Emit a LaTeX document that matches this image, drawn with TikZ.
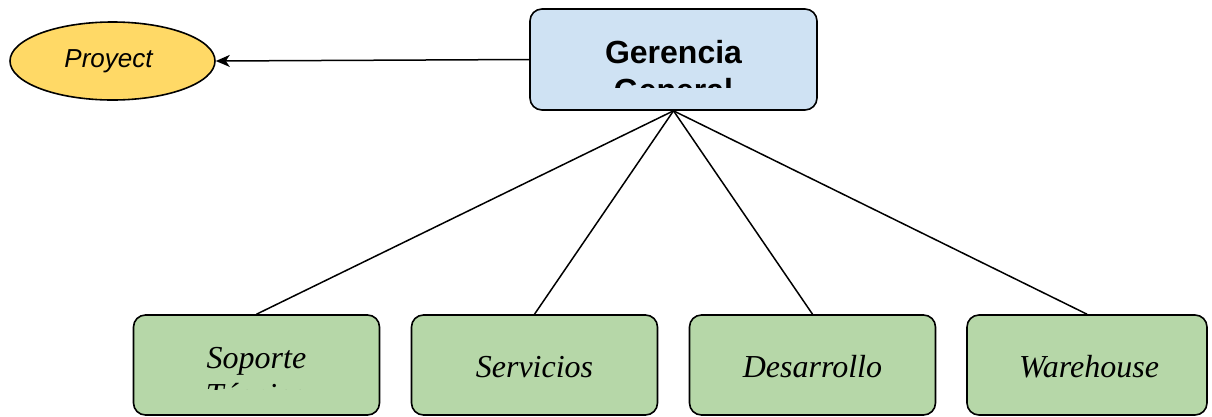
\documentclass[tikz,border=0pt]{standalone}
\usepackage{fontspec}
\setmainfont{Liberation Serif}
\newfontfamily\arialfont{Liberation Sans}
\usetikzlibrary{arrows.meta,shapes.geometric}
\definecolor{gerblue}{RGB}{207,226,243}
\definecolor{areagreen}{RGB}{182,215,168}
\definecolor{proyellow}{RGB}{255,217,102}

\begin{document}
\begin{tikzpicture}[x=1pt,y=-1pt,line width=1.6pt,
    gerbox/.style={draw,rounded corners=12pt,fill=gerblue,minimum width=287pt,minimum height=101pt,inner sep=0pt},
    areabox/.style={draw,rounded corners=12pt,fill=areagreen,minimum width=246pt,minimum height=100pt,inner sep=0pt},
    areatext/.style={font=\fontsize{32}{37}\selectfont\itshape,align=center,inner sep=0pt},
    link/.style={line width=1.5pt}]
    \useasboundingbox (0,0) rectangle (1212,416);
    % top
    \node[gerbox] (ger) at (673.5,59.5) {};
    \begin{scope}
        \clip (530,9) rectangle (817,87);
        \node[font=\arialfont\bfseries\fontsize{32}{38}\selectfont,align=center,inner sep=0pt] (gertext) at (673.5,71) {Gerencia\\General};
    \end{scope}
    \node[draw,ellipse,fill=proyellow,minimum width=205pt,minimum height=78pt,inner sep=0pt] (proy) at (112.5,61) {};
    \node[font=\arialfont\itshape\fontsize{26}{31}\selectfont,inner sep=0pt] (proytext) at (108.5,61) {Proyect};
    \draw[link,-{Stealth[length=14pt,width=12pt,inset=4pt]}] (ger.west) -- (proy.east);
    % areas
    \node[areabox] (sop) at (256.5,365) {};
    \node[areabox] (ser) at (534.5,365) {};
    \node[areabox] (des) at (812.5,365) {};
    \node[areabox,minimum width=240pt] (war) at (1087,365) {};
    \node[areatext] (sertext) at (534.5,367) {Servicios};
    \node[areatext] (destext) at (812.5,367) {Desarrollo};
    \node[areatext] (wartext) at (1089,367) {Warehouse};
    \begin{scope}
        \clip (133,315) rectangle (380,389);
        \node[areatext] (soptext) at (256.5,377) {Soporte\\Técnico};
    \end{scope}
    \foreach \a in {sop,ser,des,war}
        \draw[link] (ger.south) -- (\a.north);
\end{tikzpicture}
\end{document}
